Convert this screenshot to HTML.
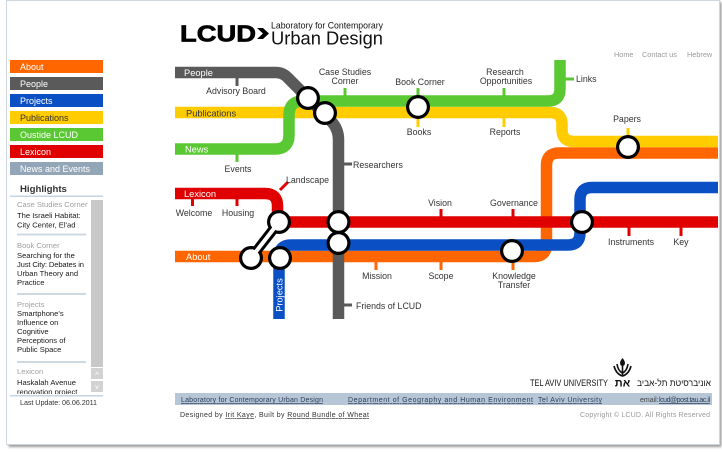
<!DOCTYPE html>
<html><head><meta charset="utf-8">
<style>
html,body{margin:0;padding:0;background:#fff;width:722px;height:452px;overflow:hidden}
svg{display:block}
text{font-family:"Liberation Sans",Arial,sans-serif}
</style></head><body>
<svg width="722" height="452" viewBox="0 0 722 452" xmlns="http://www.w3.org/2000/svg">
<defs>
<filter id="sh" x="-5%" y="-5%" width="110%" height="110%"><feGaussianBlur stdDeviation="1.3"/></filter>
<clipPath id="hl"><rect x="10" y="199" width="80" height="195"/></clipPath>
</defs>
<!-- frame -->
<rect x="8.5" y="2" width="713" height="445" fill="#9a9a9a" filter="url(#sh)"/>
<rect x="6.5" y="0.5" width="713" height="444" fill="#fff" stroke="#cdd6df"/>

<!-- header -->
<text x="180" y="41.3" font-size="23" font-weight="bold" fill="#000" stroke="#000" stroke-width="0.7" textLength="76" lengthAdjust="spacingAndGlyphs">LCUD</text>
<polygon points="257,28 263,28 269,33.5 263,39 257,39 263,33.5" fill="#000"/>
<text x="271" y="28.5" font-size="9.5" fill="#111" textLength="112" lengthAdjust="spacingAndGlyphs">Laboratory for Contemporary</text>
<text x="271" y="44.5" font-size="18.5" fill="#111" textLength="112" lengthAdjust="spacingAndGlyphs">Urban Design</text>
<g font-size="7.3" fill="#9a9a9a">
<text x="614" y="57">Home</text>
<text x="642" y="57">Contact us</text>
<text x="687" y="57">Hebrew</text>
</g>

<!-- sidebar menu -->
<g font-size="9">
<rect x="10" y="60" width="93" height="13" fill="#ff6600"/><text x="20" y="70" fill="#fff">About</text>
<rect x="10" y="77" width="93" height="13" fill="#5a5a5a"/><text x="20" y="87" fill="#fff">People</text>
<rect x="10" y="94" width="93" height="13" fill="#0a50c4"/><text x="20" y="104" fill="#fff">Projects</text>
<rect x="10" y="111" width="93" height="13" fill="#ffcc00"/><text x="20" y="121" fill="#333">Publications</text>
<rect x="10" y="128" width="93" height="13" fill="#5ac832"/><text x="20" y="138" fill="#fff">Oustide LCUD</text>
<rect x="10" y="145" width="93" height="13" fill="#e00000"/><text x="20" y="155" fill="#fff">Lexicon</text>
<rect x="10" y="162" width="93" height="13" fill="#93a6b8"/><text x="20" y="172" fill="#fff">News and Events</text>
</g>
<text x="20" y="192" font-size="9.6" font-weight="bold" fill="#333">Highlights</text>
<rect x="10" y="195.5" width="93" height="1.5" fill="#c6d4e2"/>

<!-- scrollbar -->
<rect x="91" y="200" width="12" height="167" fill="#c8c8c8"/>
<rect x="91" y="368" width="12" height="11" fill="#d2d2d2"/>
<rect x="91" y="381" width="12" height="11" fill="#d2d2d2"/>
<text x="97" y="378" font-size="8" fill="#fff" text-anchor="middle">^</text>
<text x="97" y="389" font-size="7" fill="#fff" text-anchor="middle">v</text>

<g clip-path="url(#hl)" font-size="7.6">
<text x="17" y="207" fill="#a0a0a0">Case Studies Corner</text>
<text x="17" y="218" fill="#1a1a1a">The Israeli Habitat:</text>
<text x="17" y="227.5" fill="#1a1a1a">City Center, El'ad</text>
<rect x="17" y="233.5" width="69" height="2" fill="#cdd8e0"/>
<text x="17" y="248" fill="#a0a0a0">Book Corner</text>
<text x="17" y="258" fill="#1a1a1a">Searching for the</text>
<text x="17" y="267" fill="#1a1a1a" textLength="67">Just City: Debates in</text>
<text x="17" y="276" fill="#1a1a1a">Urban Theory and</text>
<text x="17" y="285" fill="#1a1a1a">Practice</text>
<rect x="17" y="293" width="69" height="2" fill="#cdd8e0"/>
<text x="17" y="307" fill="#a0a0a0">Projects</text>
<text x="17" y="316" fill="#1a1a1a">Smartphone's</text>
<text x="17" y="325" fill="#1a1a1a">Influence on</text>
<text x="17" y="334" fill="#1a1a1a">Cognitive</text>
<text x="17" y="343" fill="#1a1a1a">Perceptions of</text>
<text x="17" y="352" fill="#1a1a1a">Public Space</text>
<rect x="17" y="361" width="69" height="2" fill="#cdd8e0"/>
<text x="17" y="374" fill="#a0a0a0">Lexicon</text>
<text x="17" y="385" fill="#1a1a1a">Haskalah Avenue</text>
<text x="17" y="394.5" fill="#1a1a1a">renovation project</text>
</g>
<rect x="10" y="395" width="93" height="1.5" fill="#c6d4e2"/>
<text x="20" y="405" font-size="7.2" fill="#333" textLength="77">Last Update: 06.06.2011</text>

<!-- metro lines -->
<g fill="none" stroke-width="11.5">
<path d="M175,256.5 H534 Q546.5,256.5 546.5,244 V165.5 Q546.5,153 559,153 H718" stroke="#ff6600"/>
<path d="M175,112.5 H550 Q562,112.5 562,124.5 V129.5 Q562,141.5 574,141.5 H718" stroke="#ffcc00"/>
<path d="M175,149 H275 Q289,149 289,135 V115 Q289,101 303,101 H548 Q560,101 560,89 V60" stroke="#5ac832"/>
<path d="M175,193.5 H265 Q277.5,193.5 277.5,206 V222 H718" stroke="#e00000"/>
<path d="M279,319 V257 Q279,245 291,245 H568 Q580,245 580,233 V199.5 Q580,187.5 592,187.5 H718" stroke="#0a50c4"/>
<path d="M175,72.5 H276 Q283,72.5 288,78 L330.5,120.5 Q338.5,128.5 338.5,139.5 V319" stroke="#5a5a5a"/>
</g>

<!-- ticks -->
<g stroke-width="3" fill="none">
<g stroke="#5a5a5a">
<line x1="237" y1="78" x2="237" y2="86"/>
<line x1="344" y1="164" x2="352" y2="164"/>
<line x1="344" y1="305" x2="352" y2="305"/>
</g>
<g stroke="#5ac832">
<line x1="345" y1="88" x2="345" y2="96"/>
<line x1="418" y1="88" x2="418" y2="96"/>
<line x1="504" y1="88" x2="504" y2="96"/>
<line x1="565" y1="79" x2="574" y2="79"/>
<line x1="237" y1="154" x2="237" y2="162"/>
</g>
<g stroke="#ffcc00">
<line x1="418" y1="118" x2="418" y2="127"/>
<line x1="504" y1="118" x2="504" y2="127"/>
<line x1="628" y1="128" x2="628" y2="137"/>
</g>
<g stroke="#e00000">
<line x1="192.5" y1="199" x2="192.5" y2="206"/>
<line x1="237" y1="199" x2="237" y2="206"/>
<line x1="280" y1="190" x2="288" y2="182"/>
<line x1="441" y1="209" x2="441" y2="217"/>
<line x1="513" y1="209" x2="513" y2="217"/>
<line x1="629" y1="227" x2="629" y2="236"/>
<line x1="681" y1="227" x2="681" y2="236"/>
</g>
<g stroke="#ff6600">
<line x1="376" y1="262" x2="376" y2="270"/>
<line x1="441" y1="262" x2="441" y2="270"/>
<line x1="513" y1="262" x2="513" y2="270"/>
</g>
</g>

<!-- stations -->
<g fill="#000">
<line x1="279" y1="222" x2="251" y2="258" stroke="#000" stroke-width="10"/>
<circle cx="308" cy="98" r="12"/><circle cx="325" cy="113" r="12"/>
<circle cx="338.5" cy="222" r="12"/><circle cx="338.5" cy="243" r="12"/>
<circle cx="279" cy="222" r="12"/><circle cx="251" cy="258" r="12"/>
<circle cx="280" cy="258" r="12"/>
<circle cx="418" cy="107" r="12"/><circle cx="628" cy="147" r="12"/>
<circle cx="582" cy="222" r="12"/><circle cx="512" cy="251" r="12"/>
</g>
<g fill="#fff">
<line x1="279" y1="222" x2="251" y2="258" stroke="#fff" stroke-width="4"/>
<circle cx="308" cy="98" r="8.8"/><circle cx="325" cy="113" r="8.8"/>
<circle cx="338.5" cy="222" r="8.8"/><circle cx="338.5" cy="243" r="8.8"/>
<circle cx="279" cy="222" r="8.8"/><circle cx="251" cy="258" r="8.8"/>
<circle cx="280" cy="258" r="8.8"/>
<circle cx="418" cy="107" r="8.8"/><circle cx="628" cy="147" r="8.8"/>
<circle cx="582" cy="222" r="8.8"/><circle cx="512" cy="251" r="8.8"/>
</g>

<!-- line labels -->
<g font-size="9.3">
<text x="184" y="76" fill="#fff">People</text>
<text x="186" y="116.5" fill="#333">Publications</text>
<text x="185" y="152.5" fill="#fff">News</text>
<text x="184" y="197" fill="#fff">Lexicon</text>
<text x="186" y="260" fill="#fff">About</text>
<text transform="translate(282.5,295) rotate(-90)" text-anchor="middle" fill="#fff">Projects</text>
</g>

<!-- station labels -->
<g font-size="8.8" fill="#333">
<text x="236" y="94" text-anchor="middle">Advisory Board</text>
<text x="345" y="75" text-anchor="middle">Case Studies</text>
<text x="345" y="84" text-anchor="middle">Corner</text>
<text x="420" y="85" text-anchor="middle">Book Corner</text>
<text x="505" y="75" text-anchor="middle">Research</text>
<text x="506" y="84" text-anchor="middle">Opportunities</text>
<text x="576" y="82">Links</text>
<text x="419" y="135" text-anchor="middle">Books</text>
<text x="505" y="135" text-anchor="middle">Reports</text>
<text x="627" y="122" text-anchor="middle">Papers</text>
<text x="353" y="168">Researchers</text>
<text x="238" y="172" text-anchor="middle">Events</text>
<text x="286" y="183">Landscape</text>
<text x="194" y="216" text-anchor="middle">Welcome</text>
<text x="238" y="216" text-anchor="middle">Housing</text>
<text x="440" y="206" text-anchor="middle">Vision</text>
<text x="514" y="206" text-anchor="middle">Governance</text>
<text x="631" y="245" text-anchor="middle">Instruments</text>
<text x="681" y="245" text-anchor="middle">Key</text>
<text x="377" y="279" text-anchor="middle">Mission</text>
<text x="441" y="279" text-anchor="middle">Scope</text>
<text x="514" y="279" text-anchor="middle">Knowledge</text>
<text x="514" y="288" text-anchor="middle">Transfer</text>
<text x="356" y="309">Friends of LCUD</text>
</g>

<!-- Tel Aviv University logo -->
<text x="530" y="386" font-size="9.5" fill="#111" textLength="78" lengthAdjust="spacingAndGlyphs">TEL AVIV UNIVERSITY</text>
<g fill="none" stroke="#111" stroke-width="1.6">
<path d="M622.5,376 V364"/>
<path d="M614,366 Q616,374 622.5,376 Q629,374 631,366"/>
<path d="M617,364 Q618,371 622.5,373 Q627,371 628,364"/>
</g>
<path d="M622.5,358 Q626,362 624.5,365 Q622.5,367 620.5,365 Q619,362 622.5,358 Z" fill="#111"/>
<text x="622.5" y="386.5" font-size="11" font-weight="bold" fill="#111" text-anchor="middle" font-family="DejaVu Sans, sans-serif">את</text>
<text x="674" y="386" font-size="9.5" fill="#111" text-anchor="middle" textLength="74" lengthAdjust="spacingAndGlyphs" font-family="DejaVu Sans, sans-serif">אוניברסיטת תל-אביב</text>

<!-- footer -->
<rect x="175" y="393" width="537" height="12" fill="#b6c6d6"/>
<g font-size="7" fill="#2c3e5c" text-decoration="underline">
<text x="181" y="402" textLength="142">Laboratory for Contemporary Urban Design</text>
<text x="348" y="402" textLength="185">Department of Geography and Human Environment</text>
<text x="538" y="402" textLength="64">Tel Aviv University</text>
<text x="659" y="402" textLength="51">lcud@post.tau.ac.il</text>
</g>
<text x="640" y="402" font-size="7" fill="#444">email:</text>
<text x="180" y="417" font-size="7" fill="#333" textLength="189">Designed by <tspan text-decoration="underline">Irit Kaye</tspan>,  Built by <tspan text-decoration="underline">Round Bundle of Wheat</tspan></text>
<text x="710" y="417" font-size="7" fill="#9a9a9a" text-anchor="end" textLength="130">Copyright © LCUD. All Rights Reserved</text>
</svg>
</body></html>
